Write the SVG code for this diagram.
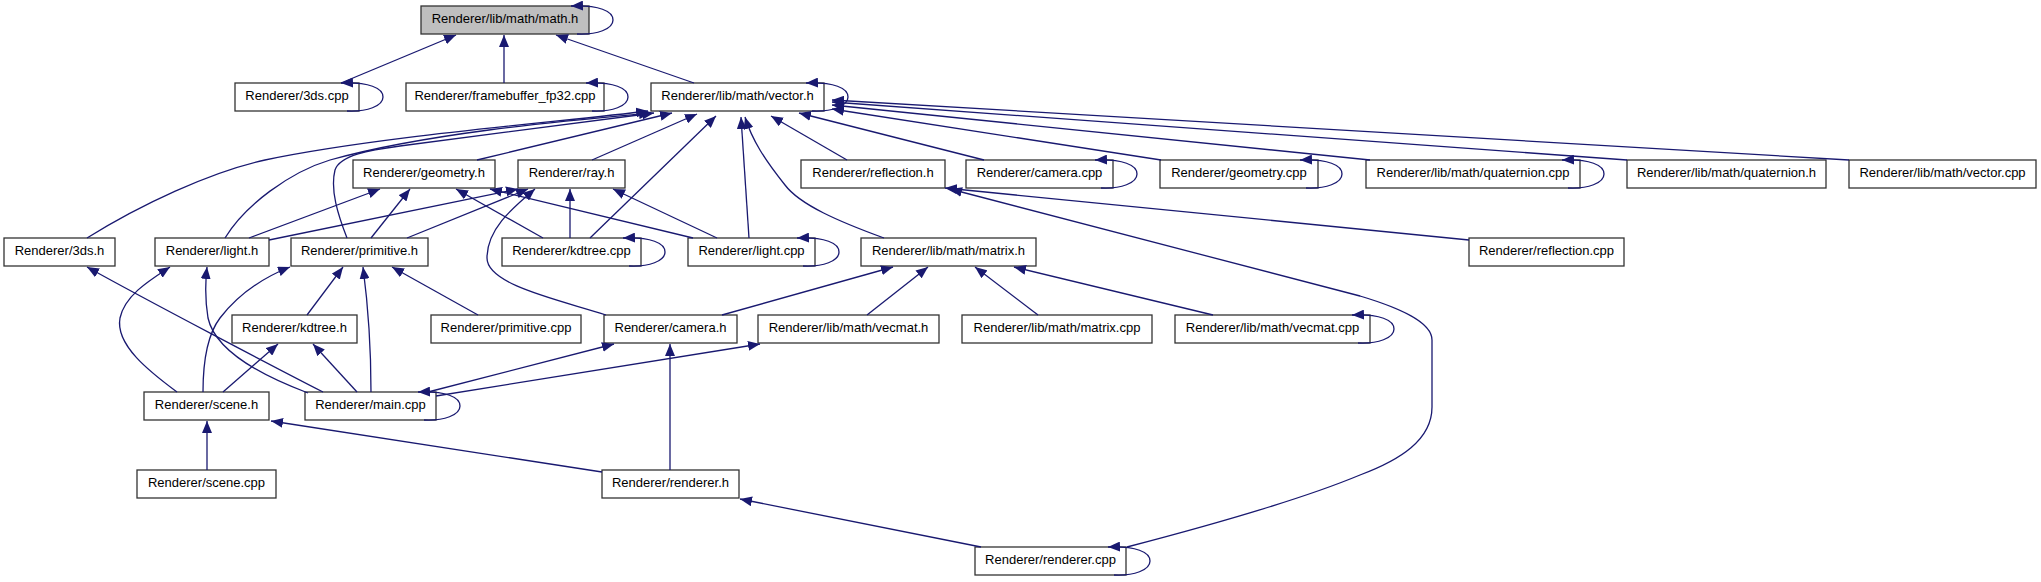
<svg xmlns="http://www.w3.org/2000/svg" width="2041" height="582" viewBox="0 0 2041 582">
<style>
.n rect{fill:#fff;stroke:#333;stroke-width:1.3}
.n.m rect{fill:#bfbfbf}
.n text{font-family:"Liberation Sans",Arial,sans-serif;font-size:13px;text-anchor:middle;fill:#000}
.e path{fill:none;stroke:#191970;stroke-width:1.3;marker-end:url(#a)}
</style>
<defs>
<marker id="a" markerUnits="userSpaceOnUse" markerWidth="12" markerHeight="10" viewBox="0 0 12 10" refX="12" refY="5" orient="auto">
<path d="M0,0 L12,5 L0,10 z" fill="#191970"/>
</marker>
</defs>
<rect width="2041" height="582" fill="#fff"/>
<g id="nodes">
<g id="n_math_h" class="n m"><rect x="421" y="6" width="168" height="28"/><text x="505" y="23">Renderer/lib/math/math.h</text></g>
<g id="n_3ds_cpp" class="n"><rect x="235" y="83" width="124" height="28"/><text x="297" y="100">Renderer/3ds.cpp</text></g>
<g id="n_framebuffer" class="n"><rect x="406" y="83" width="198" height="28"/><text x="505" y="100">Renderer/framebuffer_fp32.cpp</text></g>
<g id="n_vector_h" class="n"><rect x="651" y="83" width="173" height="28"/><text x="737.5" y="100">Renderer/lib/math/vector.h</text></g>
<g id="n_geometry_h" class="n"><rect x="353" y="160" width="142" height="28"/><text x="424" y="177">Renderer/geometry.h</text></g>
<g id="n_ray_h" class="n"><rect x="518" y="160" width="107" height="28"/><text x="571.5" y="177">Renderer/ray.h</text></g>
<g id="n_reflection_h" class="n"><rect x="801" y="160" width="144" height="28"/><text x="873" y="177">Renderer/reflection.h</text></g>
<g id="n_camera_cpp" class="n"><rect x="966" y="160" width="147" height="28"/><text x="1039.5" y="177">Renderer/camera.cpp</text></g>
<g id="n_geometry_cpp" class="n"><rect x="1160" y="160" width="158" height="28"/><text x="1239" y="177">Renderer/geometry.cpp</text></g>
<g id="n_quaternion_cpp" class="n"><rect x="1366" y="160" width="214" height="28"/><text x="1473" y="177">Renderer/lib/math/quaternion.cpp</text></g>
<g id="n_quaternion_h" class="n"><rect x="1627" y="160" width="199" height="28"/><text x="1726.5" y="177">Renderer/lib/math/quaternion.h</text></g>
<g id="n_vector_cpp" class="n"><rect x="1849" y="160" width="187" height="28"/><text x="1942.5" y="177">Renderer/lib/math/vector.cpp</text></g>
<g id="n_3ds_h" class="n"><rect x="4" y="238" width="111" height="28"/><text x="59.5" y="255">Renderer/3ds.h</text></g>
<g id="n_light_h" class="n"><rect x="155" y="238" width="114" height="28"/><text x="212" y="255">Renderer/light.h</text></g>
<g id="n_primitive_h" class="n"><rect x="291" y="238" width="137" height="28"/><text x="359.5" y="255">Renderer/primitive.h</text></g>
<g id="n_kdtree_cpp" class="n"><rect x="502" y="238" width="139" height="28"/><text x="571.5" y="255">Renderer/kdtree.cpp</text></g>
<g id="n_light_cpp" class="n"><rect x="688" y="238" width="127" height="28"/><text x="751.5" y="255">Renderer/light.cpp</text></g>
<g id="n_matrix_h" class="n"><rect x="861" y="238" width="175" height="28"/><text x="948.5" y="255">Renderer/lib/math/matrix.h</text></g>
<g id="n_reflection_cpp" class="n"><rect x="1469" y="238" width="155" height="28"/><text x="1546.5" y="255">Renderer/reflection.cpp</text></g>
<g id="n_kdtree_h" class="n"><rect x="232" y="315" width="125" height="28"/><text x="294.5" y="332">Renderer/kdtree.h</text></g>
<g id="n_primitive_cpp" class="n"><rect x="431" y="315" width="150" height="28"/><text x="506" y="332">Renderer/primitive.cpp</text></g>
<g id="n_camera_h" class="n"><rect x="604" y="315" width="133" height="28"/><text x="670.5" y="332">Renderer/camera.h</text></g>
<g id="n_vecmat_h" class="n"><rect x="758" y="315" width="181" height="28"/><text x="848.5" y="332">Renderer/lib/math/vecmat.h</text></g>
<g id="n_matrix_cpp" class="n"><rect x="962" y="315" width="190" height="28"/><text x="1057" y="332">Renderer/lib/math/matrix.cpp</text></g>
<g id="n_vecmat_cpp" class="n"><rect x="1175" y="315" width="195" height="28"/><text x="1272.5" y="332">Renderer/lib/math/vecmat.cpp</text></g>
<g id="n_scene_h" class="n"><rect x="144" y="392" width="125" height="28"/><text x="206.5" y="409">Renderer/scene.h</text></g>
<g id="n_main_cpp" class="n"><rect x="305" y="392" width="131" height="28"/><text x="370.5" y="409">Renderer/main.cpp</text></g>
<g id="n_scene_cpp" class="n"><rect x="137" y="470" width="139" height="28"/><text x="206.5" y="487">Renderer/scene.cpp</text></g>
<g id="n_renderer_h" class="n"><rect x="602" y="470" width="137" height="28"/><text x="670.5" y="487">Renderer/renderer.h</text></g>
<g id="n_renderer_cpp" class="n"><rect x="975" y="547" width="151" height="28"/><text x="1050.5" y="564">Renderer/renderer.cpp</text></g>
</g>
<g id="connectors" class="e">
<path d="M341,83 L456,35"/>
<path d="M504,83 L504,35"/>
<path d="M694,83 L556,35"/>
<path d="M577,34 C597,35 613,29 613,20 C613,11 599,5 571,6"/>
<path d="M87,238 C140,205 210,172 265,160 C380,136 560,122 648,111"/>
<path d="M225,238 C245,205 290,172 330,160 C430,132 575,120 651,113"/>
<path d="M347,238 C338,215 330,190 335,170 C340,155 370,150 400,146 C480,135 590,122 654,113"/>
<path d="M477,160 L672,113"/>
<path d="M592,160 L697,114"/>
<path d="M590,238 L716,116"/>
<path d="M749,238 L741,117"/>
<path d="M884,238 C840,222 800,205 785,185 C765,160 752,140 745,117"/>
<path d="M847,160 L771,116"/>
<path d="M984,160 L799,113"/>
<path d="M1161,160 L832,109"/>
<path d="M1370,160 L832,105"/>
<path d="M1627,160 L832,102"/>
<path d="M1849,160 L832,100"/>
<path d="M347,111 C367,112 383,106 383,97 C383,88 369,82 341,83"/>
<path d="M592,111 C612,112 628,106 628,97 C628,88 614,82 586,83"/>
<path d="M812,111 C832,112 848,106 848,97 C848,88 834,82 806,83"/>
<path d="M1101,188 C1121,189 1137,183 1137,174 C1137,165 1123,159 1095,160"/>
<path d="M1306,188 C1326,189 1342,183 1342,174 C1342,165 1328,159 1300,160"/>
<path d="M1568,188 C1588,189 1604,183 1604,174 C1604,165 1590,159 1562,160"/>
<path d="M629,266 C649,267 665,261 665,252 C665,243 651,237 623,238"/>
<path d="M803,266 C823,267 839,261 839,252 C839,243 825,237 797,238"/>
<path d="M1358,343 C1378,344 1394,338 1394,329 C1394,320 1380,314 1352,315"/>
<path d="M424,420 C444,421 460,415 460,406 C460,397 446,391 418,392"/>
<path d="M1114,575 C1134,576 1150,570 1150,561 C1150,552 1136,546 1108,547"/>
<path d="M249,238 L380,189"/>
<path d="M371,238 L410,189"/>
<path d="M543,238 L456,189"/>
<path d="M693,238 L490,189"/>
<path d="M269,240 L518,189"/>
<path d="M407,238 L528,189"/>
<path d="M606,315 C560,300 487,285 487,258 C487,230 510,210 535,189"/>
<path d="M570,238 L570,189"/>
<path d="M717,238 L613,189"/>
<path d="M1469,240 L945,188"/>
<path d="M1127,547 C1200,528 1300,500 1360,475 C1400,460 1432,440 1432,407 L1432,340 C1432,322 1400,308 1360,296 L950,189"/>
<path d="M323,392 C280,370 150,302 87,267"/>
<path d="M177,392 C150,372 115,345 120,318 C125,295 150,280 170,267"/>
<path d="M308,393 C260,375 215,350 208,318 C205,300 205,285 207,267"/>
<path d="M203,392 C203,360 207,335 220,318 C237,296 262,278 290,267"/>
<path d="M307,315 L343,267"/>
<path d="M371,392 C371,350 368,305 363,267"/>
<path d="M478,315 L392,267"/>
<path d="M223,392 L278,344"/>
<path d="M357,392 L313,344"/>
<path d="M428,392 L614,344"/>
<path d="M670,470 L670,344"/>
<path d="M436,396 L760,344"/>
<path d="M722,315 L893,267"/>
<path d="M867,315 L928,267"/>
<path d="M1038,315 L975,267"/>
<path d="M1213,315 L1014,267"/>
<path d="M207,470 L207,421"/>
<path d="M602,472 L271,421"/>
<path d="M981,547 L740,499"/>
</g>
</svg>
